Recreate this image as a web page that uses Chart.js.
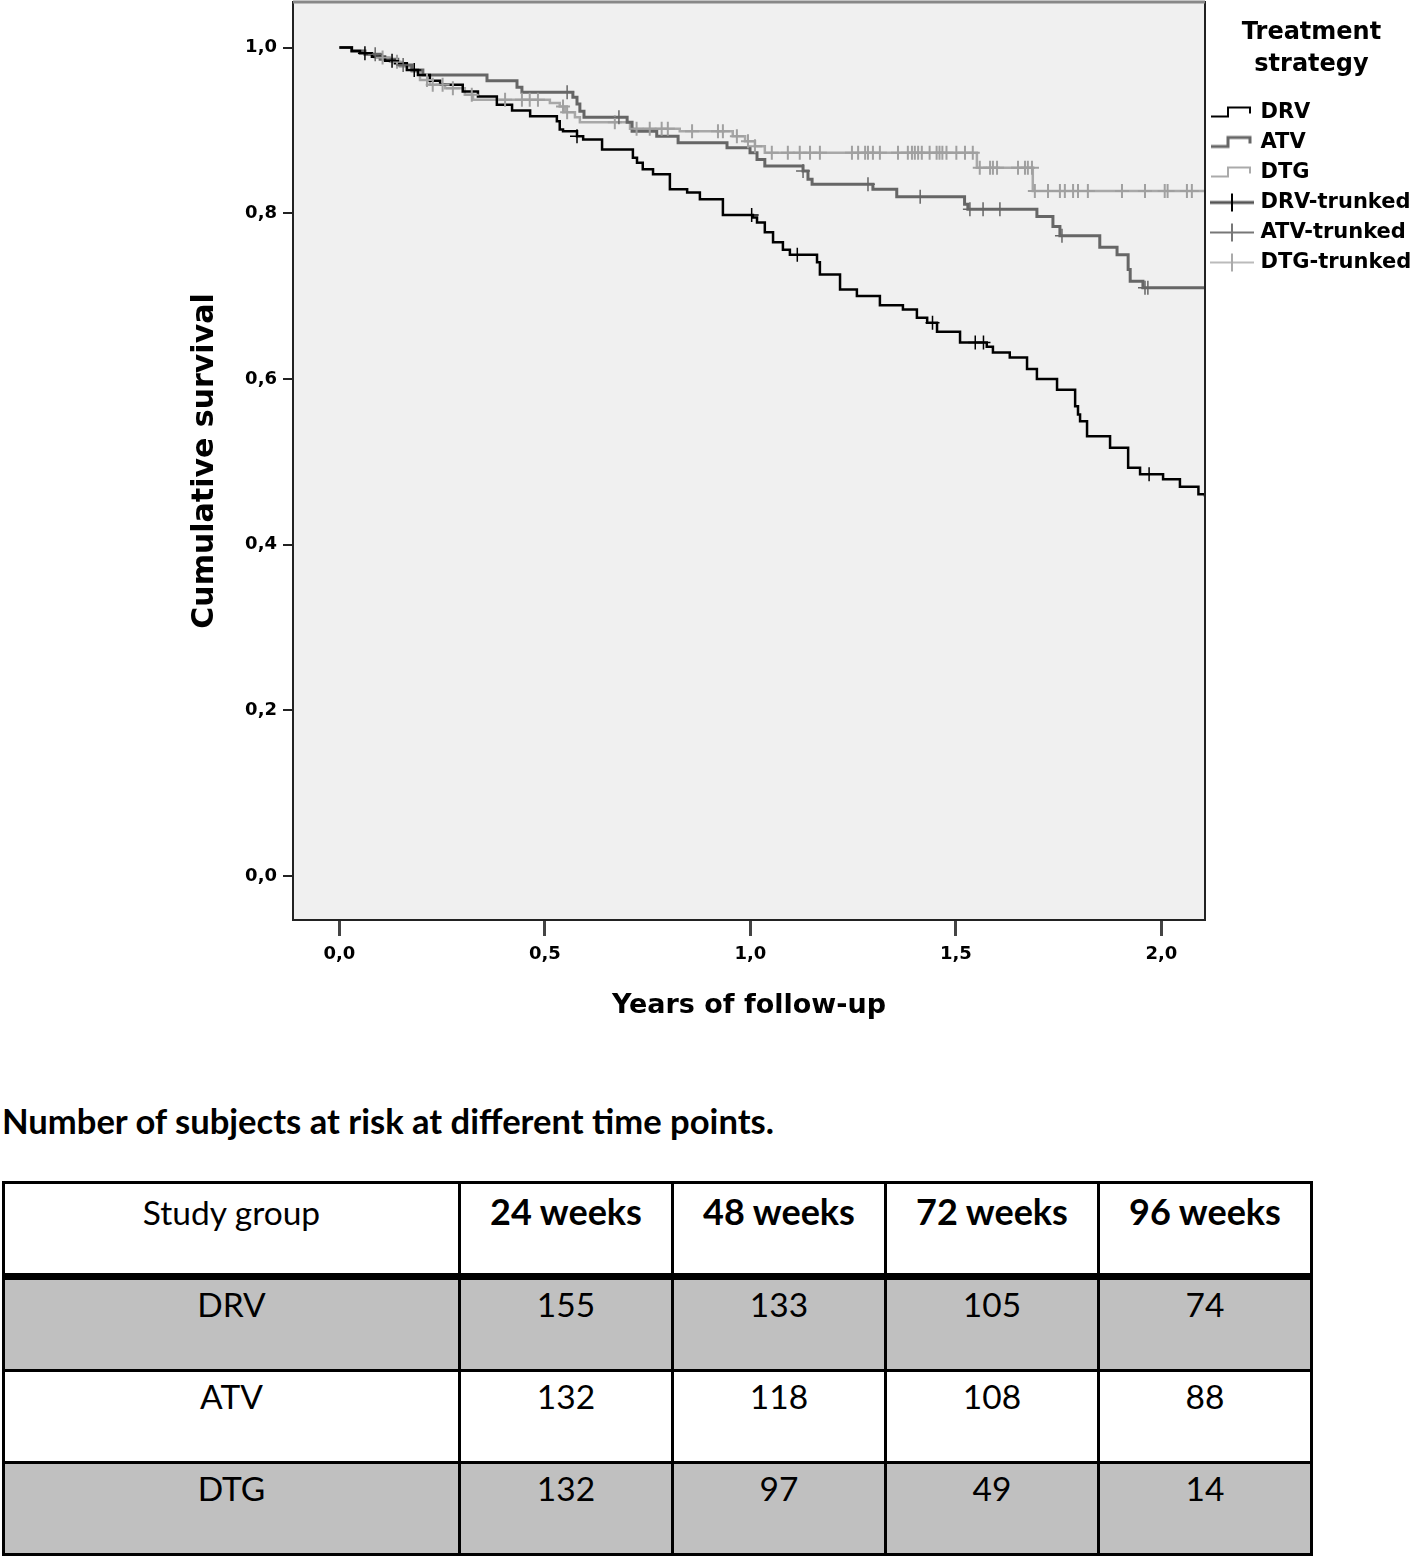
<!DOCTYPE html>
<html>
<head>
<meta charset="utf-8">
<title>Cumulative survival by treatment strategy</title>
<script src="https://cdn.jsdelivr.net/npm/chart.js@4.4.1/dist/chart.umd.min.js"></script>
<style>
    body { margin: 0; background: #fff; width: 1418px; height: 1557px; position: relative; overflow: hidden; }
    #km { position: absolute; left: 0; top: 0; }
    .caption { position: absolute; left: 2px; top: 1100px; font: bold 34.6px Lato, sans-serif; color: #000; white-space: nowrap; }
    table.risk { position: absolute; left: 2px; top: 1181px; border-collapse: collapse; font-family: Lato, sans-serif; font-size: 33.5px; color: #000; }
    table.risk td { border: 3px solid #000; text-align: center; vertical-align: top; padding: 6px 0 0 0; line-height: 1.2; }
    table.risk tr.head td { height: 83px; border-bottom: 7px solid #000; font-weight: bold; font-size: 36px; }
    table.risk tr.head td.first { font-weight: normal; font-size: 33.5px; padding-top: 8px; height: 81px; }
    table.risk tr.row td { height: 85px; padding-top: 4px; }
    table.risk tr.grey td { background: #c0c0c0; }
</style>
</head>
<body>
<canvas id="km" width="1418" height="1060"></canvas>
<div class="caption" id="caption"></div>
<table class="risk" id="risk"></table>

<script>
// Kaplan-Meier curves: event time (years) and survival after the event
const drvTime = [0, 0.030, 0.050, 0.079, 0.111, 0.135, 0.164, 0.191, 0.220, 0.245, 0.300, 0.337, 0.383, 0.420, 0.464, 0.529, 0.536, 0.544, 0.578, 0.593, 0.639, 0.714, 0.724, 0.738, 0.763, 0.804, 0.846, 0.877, 0.933, 1.006, 1.016, 1.035, 1.055, 1.079, 1.096, 1.162, 1.169, 1.218, 1.259, 1.315, 1.371, 1.405, 1.430, 1.454, 1.510, 1.575, 1.590, 1.631, 1.673, 1.697, 1.746, 1.790, 1.797, 1.802, 1.819, 1.875, 1.919, 1.948, 2.004, 2.045, 2.090, 2.106];
const drvSurv = [1, 0.996, 0.993, 0.989, 0.984, 0.981, 0.973, 0.967, 0.960, 0.955, 0.947, 0.941, 0.931, 0.924, 0.917, 0.911, 0.901, 0.899, 0.893, 0.889, 0.877, 0.867, 0.861, 0.853, 0.847, 0.829, 0.825, 0.817, 0.798, 0.795, 0.789, 0.777, 0.765, 0.756, 0.750, 0.741, 0.726, 0.708, 0.700, 0.689, 0.684, 0.674, 0.668, 0.657, 0.644, 0.639, 0.632, 0.626, 0.612, 0.600, 0.587, 0.567, 0.557, 0.549, 0.531, 0.517, 0.493, 0.485, 0.479, 0.470, 0.461, 0.458];
const drvCensor = [0.062, 0.128, 0.182, 0.578, 1.003, 1.114, 1.443, 1.547, 1.567, 1.970];

const atvTime = [0, 0.030, 0.062, 0.099, 0.142, 0.176, 0.203, 0.359, 0.432, 0.444, 0.568, 0.578, 0.585, 0.595, 0.700, 0.712, 0.772, 0.824, 0.943, 0.999, 1.016, 1.035, 1.128, 1.140, 1.150, 1.298, 1.356, 1.521, 1.529, 1.697, 1.736, 1.753, 1.850, 1.892, 1.919, 1.924, 1.955, 2.106];
const atvSurv = [1, 0.996, 0.992, 0.986, 0.979, 0.973, 0.967, 0.960, 0.952, 0.946, 0.940, 0.932, 0.923, 0.916, 0.910, 0.899, 0.893, 0.885, 0.879, 0.873, 0.865, 0.857, 0.851, 0.841, 0.835, 0.829, 0.820, 0.811, 0.805, 0.796, 0.784, 0.773, 0.759, 0.750, 0.732, 0.718, 0.710, 0.710];
const atvCensor = [0.087, 0.155, 0.554, 0.680, 1.128, 1.286, 1.413, 1.534, 1.566, 1.607, 1.758, 1.960, 1.967];

const dtgTime = [0, 0.030, 0.062, 0.086, 0.123, 0.147, 0.176, 0.196, 0.220, 0.257, 0.305, 0.325, 0.512, 0.536, 0.549, 0.573, 0.585, 0.707, 0.828, 0.957, 0.987, 1.011, 1.035, 1.551, 1.687, 2.106];
const dtgSurv = [1, 0.996, 0.992, 0.988, 0.983, 0.977, 0.971, 0.961, 0.955, 0.951, 0.943, 0.937, 0.933, 0.929, 0.922, 0.916, 0.910, 0.902, 0.899, 0.893, 0.887, 0.881, 0.873, 0.855, 0.827, 0.827];
const dtgCensor = [0.105, 0.140, 0.213, 0.227, 0.251, 0.276, 0.322, 0.403, 0.444, 0.463, 0.483, 0.544, 0.554, 0.670, 0.723, 0.755, 0.784, 0.799, 0.858, 0.921, 0.933, 0.967, 0.994, 1.011, 1.052, 1.091, 1.120, 1.145, 1.169, 1.247, 1.262, 1.279, 1.286, 1.298, 1.315, 1.359, 1.383, 1.393, 1.400, 1.408, 1.417, 1.436, 1.453, 1.460, 1.467, 1.477, 1.501, 1.522, 1.541, 1.558, 1.583, 1.590, 1.600, 1.651, 1.668, 1.675, 1.685, 1.692, 1.724, 1.753, 1.765, 1.785, 1.797, 1.821, 1.904, 1.960, 2.008, 2.015, 2.062, 2.074];

const xTicks = [0, 0.5, 1, 1.5, 2];
const yTicks = [0, 0.2, 0.4, 0.6, 0.8, 1];

// Table of subjects at risk
const tableCaption = 'Number of subjects at risk at different time points.';
const weekLabels = ['24 weeks', '48 weeks', '72 weeks', '96 weeks'];
const studyGroups = ['DRV', 'ATV', 'DTG'];
const drvAtRisk = [155, 133, 105, 74];
const atvAtRisk = [132, 118, 108, 88];
const dtgAtRisk = [132, 97, 49, 14];


// survival value in force at time t (for the censor marks)
function survAt(times, surv, t) {
    var s = surv[0];
    for (var i = 0; i < times.length; i++) {
        if (times[i] <= t) s = surv[i];
    }
    return s;
}

function curve(times, surv) {
    return times.map(function (t, i) { return { x: t, y: surv[i] }; });
}

function marks(censor, times, surv) {
    return censor.map(function (t) { return { x: t, y: survAt(times, surv, t) }; });
}

function commaFmt(v) {
    return Number(v).toFixed(1).replace('.', ',');
}

// small legend pictures
function stepIcon(color, width) {
    var c = document.createElement('canvas');
    c.width = 44; c.height = 20;
    var g = c.getContext('2d');
    g.strokeStyle = color;
    g.lineWidth = width;
    g.beginPath();
    g.moveTo(1, 14); g.lineTo(18, 14); g.lineTo(18, 5); g.lineTo(40, 5); g.lineTo(40, 11);
    g.stroke();
    return c;
}

function crossIcon(lineColor, lineW, crossColor) {
    var c = document.createElement('canvas');
    c.width = 44; c.height = 20;
    var g = c.getContext('2d');
    g.strokeStyle = lineColor;
    g.lineWidth = lineW;
    g.beginPath(); g.moveTo(0, 10); g.lineTo(44, 10); g.stroke();
    g.strokeStyle = crossColor;
    g.lineWidth = 2;
    g.beginPath(); g.moveTo(22, 1); g.lineTo(22, 19); g.stroke();
    return c;
}

var legendIcons = [
    stepIcon('#000', 2),
    stepIcon('#666', 3),
    stepIcon('#aaa', 2),
    crossIcon('#555', 3, '#000'),
    crossIcon('#777', 2, '#777'),
    crossIcon('#bbb', 2, '#aaa')
];


// Plot background and frame
const plotFrame = {
    id: 'plotFrame',
    beforeDraw: function (chart) {
        var a = chart.chartArea, ctx = chart.ctx;
        ctx.save();
        ctx.fillStyle = '#f0f0f0';
        ctx.fillRect(a.left, a.top, a.right - a.left, a.bottom - a.top);
        ctx.restore();
    },
    afterDraw: function (chart) {
        var a = chart.chartArea, ctx = chart.ctx;
        ctx.save();
        ctx.strokeStyle = '#222';
        ctx.lineWidth = 2;
        ctx.strokeRect(a.left, a.top, a.right - a.left, a.bottom - a.top);
        ctx.strokeStyle = '#888';
        ctx.lineWidth = 3;
        ctx.beginPath(); ctx.moveTo(a.left, a.top); ctx.lineTo(a.right, a.top); ctx.stroke();
        ctx.restore();
    }
};

// keep the legend column at a fixed width so the plot ends where it should
const legendWidth = {
    id: 'legendWidth',
    beforeUpdate: function (chart) {
        var lg = chart.legend;
        if (lg && !lg._fixedWidth) {
            var fit = lg.fit;
            lg.fit = function () { fit.call(this); this.width = 213; };
            lg._fixedWidth = true;
        }
    }
};

Chart.defaults.font.family = "'DejaVu Sans', sans-serif";
Chart.defaults.font.weight = 'bold';
Chart.defaults.color = '#000';

// Survival chart
var ctx = document.getElementById('km').getContext('2d');
var kmChart = new Chart(ctx, {
    type: 'scatter',
    data: {
        datasets: [{
            label: 'DRV',
            data: curve(drvTime, drvSurv),
            showLine: true, stepped: true,
            borderColor: '#000', borderWidth: 2.5,
            pointRadius: 0, order: 1
        },
        {
            label: 'ATV',
            data: curve(atvTime, atvSurv),
            showLine: true, stepped: true,
            borderColor: '#666', borderWidth: 3,
            pointRadius: 0, order: 1
        },
        {
            label: 'DTG',
            data: curve(dtgTime, dtgSurv),
            showLine: true, stepped: true,
            borderColor: '#a8a8a8', borderWidth: 2.5,
            pointRadius: 0, order: 1
        },
        {
            label: 'DRV-trunked',
            data: marks(drvCensor, drvTime, drvSurv),
            showLine: false, pointStyle: 'cross', pointRadius: 7,
            borderColor: '#000', borderWidth: 1.5, order: 0
        },
        {
            label: 'ATV-trunked',
            data: marks(atvCensor, atvTime, atvSurv),
            showLine: false, pointStyle: 'cross', pointRadius: 7,
            borderColor: '#666', borderWidth: 1.5, order: 0
        },
        {
            label: 'DTG-trunked',
            data: marks(dtgCensor, dtgTime, dtgSurv),
            showLine: false, pointStyle: 'cross', pointRadius: 7,
            borderColor: '#a0a0a0', borderWidth: 2, order: 0
        }]
    },
    options: {
        responsive: false,
        animation: false,
        devicePixelRatio: 1,
        layout: { autoPadding: false, padding: { top: 2, left: 0, right: 0, bottom: 0 } },
        plugins: {
            tooltip: { enabled: false },
            legend: {
                position: 'right',
                align: 'start',
                title: {
                    display: true,
                    text: ['Treatment', 'strategy'],
                    font: { size: 24, weight: 'bold', lineHeight: 32 / 24 },
                    padding: { top: 19, bottom: 40 },
                    color: '#000'
                },
                labels: {
                    usePointStyle: true,
                    pointStyleWidth: 36,
                    padding: 9,
                    color: '#000',
                    font: { size: 21, weight: 'bold' },
                    generateLabels: function (chart) {
                        return chart.data.datasets.map(function (ds, i) {
                            return {
                                text: ds.label,
                                pointStyle: legendIcons[i],
                                fillStyle: 'rgba(0,0,0,0)',
                                strokeStyle: 'rgba(0,0,0,0)',
                                lineWidth: 0,
                                fontColor: '#000',
                                hidden: false,
                                datasetIndex: i
                            };
                        });
                    }
                }
            }
        },
        scales: {
            x: {
                type: 'linear',
                min: -0.113,
                max: 2.106,
                afterFit: function (scale) {
                    scale.height = 140;
                    scale.paddingLeft = 0;
                    scale.paddingRight = 0;
                },
                afterBuildTicks: function (scale) {
                    scale.ticks = xTicks.map(function (v) { return { value: v }; });
                },
                grid: { drawOnChartArea: false, drawTicks: true, tickLength: 16, color: '#444', lineWidth: 3 },
                border: { display: false },
                ticks: {
                    padding: 8,
                    font: { size: 18, weight: 'bold' },
                    color: '#000',
                    callback: commaFmt
                },
                title: {
                    display: true,
                    text: 'Years of follow-up',
                    font: { size: 27, weight: 'bold' },
                    color: '#000',
                    padding: { top: 0, bottom: 38 }
                }
            },
            y: {
                type: 'linear',
                min: -0.053,
                max: 1.055,
                afterFit: function (scale) {
                    scale.width = 293;
                    scale.paddingTop = 0;
                    scale.paddingBottom = 0;
                },
                afterBuildTicks: function (scale) {
                    scale.ticks = yTicks.map(function (v) { return { value: v }; });
                },
                grid: { drawOnChartArea: false, drawTicks: true, tickLength: 10, color: '#222', lineWidth: 2 },
                border: { display: false },
                ticks: {
                    padding: 6,
                    font: { size: 18, weight: 'bold' },
                    color: '#000',
                    callback: commaFmt
                },
                title: {
                    display: true,
                    text: 'Cumulative survival',
                    font: { size: 30, weight: 'bold' },
                    color: '#000',
                    padding: { top: 187, bottom: 0 }
                }
            }
        }
    },
    plugins: [plotFrame, legendWidth]
});


// At-risk table
document.getElementById('caption').textContent = tableCaption;

var atRisk = [drvAtRisk, atvAtRisk, dtgAtRisk];
var colWidths = [456, 213, 213, 213, 213];
var table = document.getElementById('risk');

var head = document.createElement('tr');
head.className = 'head';
['Study group'].concat(weekLabels).forEach(function (txt, i) {
    var td = document.createElement('td');
    td.textContent = txt;
    td.style.width = (colWidths[i] - 3) + 'px';
    if (i === 0) td.className = 'first';
    head.appendChild(td);
});
table.appendChild(head);

studyGroups.forEach(function (grp, r) {
    var tr = document.createElement('tr');
    tr.className = 'row' + (r % 2 === 0 ? ' grey' : '');
    [grp].concat(atRisk[r]).forEach(function (val) {
        var td = document.createElement('td');
        td.textContent = val;
        tr.appendChild(td);
    });
    table.appendChild(tr);
});
</script>
</body>
</html>
